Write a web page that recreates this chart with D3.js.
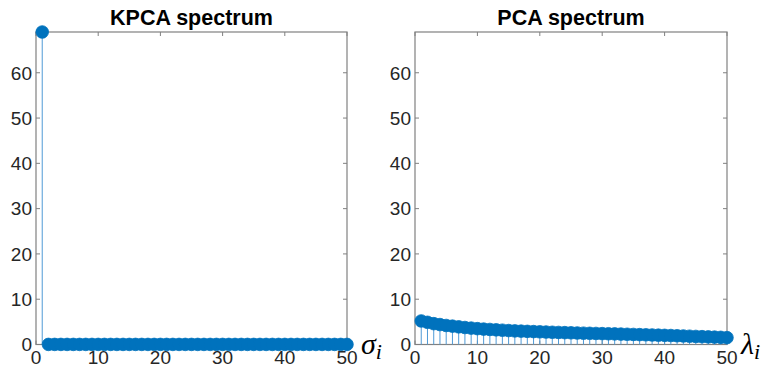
<!DOCTYPE html>
<html>
<head>
<meta charset="utf-8">
<script src="https://cdn.jsdelivr.net/npm/d3@7"></script>
<style>
  body { margin: 0; background: #fff; }
  svg { display: block; }
</style>
</head>
<body>
<svg id="chart" width="765" height="374"></svg>
<script>
var w = 765;
var h = 374;

// index 1..50
var idx = d3.range(1, 51);

// KPCA eigen spectrum: one dominant value, the rest ~0
var kpcaValues = [69].concat(d3.range(49).map(function () { return 0.02; }));

// PCA eigen spectrum
var pcaValues = [5.2, 4.9, 4.6, 4.4, 4.2, 4.05, 3.9, 3.75, 3.62, 3.5,
	3.4, 3.32, 3.24, 3.16, 3.08, 3.0, 2.95, 2.9, 2.85, 2.8,
	2.75, 2.7, 2.66, 2.62, 2.58, 2.54, 2.5, 2.47, 2.44, 2.4,
	2.37, 2.34, 2.3, 2.26, 2.22, 2.18, 2.14, 2.1, 2.06, 2.02,
	1.98, 1.93, 1.88, 1.83, 1.78, 1.73, 1.68, 1.63, 1.58, 1.52];

var xTicks = [0, 10, 20, 30, 40, 50];
var yTicks = [0, 10, 20, 30, 40, 50, 60];

var panels = [
	{ title: "KPCA spectrum", values: kpcaValues, left: 36, right: 347, sym: "σ" },
	{ title: "PCA spectrum", values: pcaValues, left: 415, right: 727, sym: "λ" }
];

var plotTop = 32, plotBottom = 344.5;
var blue = "#0072BD";
var axisCol = "#262626";

var svg = d3.select("#chart");

panels.forEach(function (p) {
	var x = d3.scaleLinear().domain([0, 50]).range([p.left, p.right]);
	var y = d3.scaleLinear().domain([0, 69]).range([plotBottom, plotTop]);
	var g = svg.append("g");

	//box
	g.append("rect")
		.attr("x", p.left).attr("y", plotTop)
		.attr("width", p.right - p.left).attr("height", plotBottom - plotTop)
		.attr("fill", "none").attr("stroke", "#808080").attr("stroke-width", 1.2);

	//inner ticks on all sides
	var tl = 4;
	xTicks.forEach(function (t) {
		g.append("line").attr("x1", x(t)).attr("x2", x(t)).attr("y1", plotBottom).attr("y2", plotBottom - tl)
			.attr("stroke", "#808080");
		g.append("line").attr("x1", x(t)).attr("x2", x(t)).attr("y1", plotTop).attr("y2", plotTop + tl)
			.attr("stroke", "#808080");
	});
	yTicks.forEach(function (t) {
		g.append("line").attr("x1", p.left).attr("x2", p.left + tl).attr("y1", y(t)).attr("y2", y(t))
			.attr("stroke", "#808080");
		g.append("line").attr("x1", p.right).attr("x2", p.right - tl).attr("y1", y(t)).attr("y2", y(t))
			.attr("stroke", "#808080");
	});

	//tick labels
	g.selectAll(".xl").data(xTicks).enter().append("text")
		.attr("x", d => x(d)).attr("y", 364)
		.attr("text-anchor", "middle")
		.attr("font-family", "Liberation Sans, Arial, sans-serif")
		.attr("font-size", 19).attr("fill", axisCol)
		.text(d => d);
	g.selectAll(".yl").data(yTicks).enter().append("text")
		.attr("x", p.left - 4).attr("y", d => y(d)).attr("dy", "0.36em")
		.attr("text-anchor", "end")
		.attr("font-family", "Liberation Sans, Arial, sans-serif")
		.attr("font-size", 19).attr("fill", axisCol)
		.text(d => d);

	//title
	g.append("text")
		.attr("x", (p.left + p.right) / 2).attr("y", 25)
		.attr("text-anchor", "middle")
		.attr("font-family", "Liberation Sans, Arial, sans-serif")
		.attr("font-weight", "bold")
		.attr("font-size", 21.5).attr("fill", "#000")
		.text(p.title);

	//stems
	g.selectAll(".stem").data(p.values).enter().append("line")
		.attr("x1", (d, i) => x(idx[i])).attr("x2", (d, i) => x(idx[i]))
		.attr("y1", y(0)).attr("y2", d => y(d))
		.attr("stroke", "#4f9ad6").attr("stroke-width", 1);

	//markers
	g.selectAll(".mk").data(p.values).enter().append("circle")
		.attr("cx", (d, i) => x(idx[i])).attr("cy", d => y(d))
		.attr("r", 6.3)
		.attr("fill", blue).attr("stroke", blue).attr("stroke-width", 0.8);

	//symbol label
	var s = g.append("text")
		.attr("x", p.right + 14).attr("y", 354)
		.attr("font-family", "Liberation Serif, DejaVu Serif, serif")
		.attr("font-style", "italic")
		.attr("font-size", 30).attr("fill", "#000");
	s.append("tspan").text(p.sym);
	s.append("tspan").attr("font-size", 22).attr("dy", 5).text("i");
});
</script>
</body>
</html>
